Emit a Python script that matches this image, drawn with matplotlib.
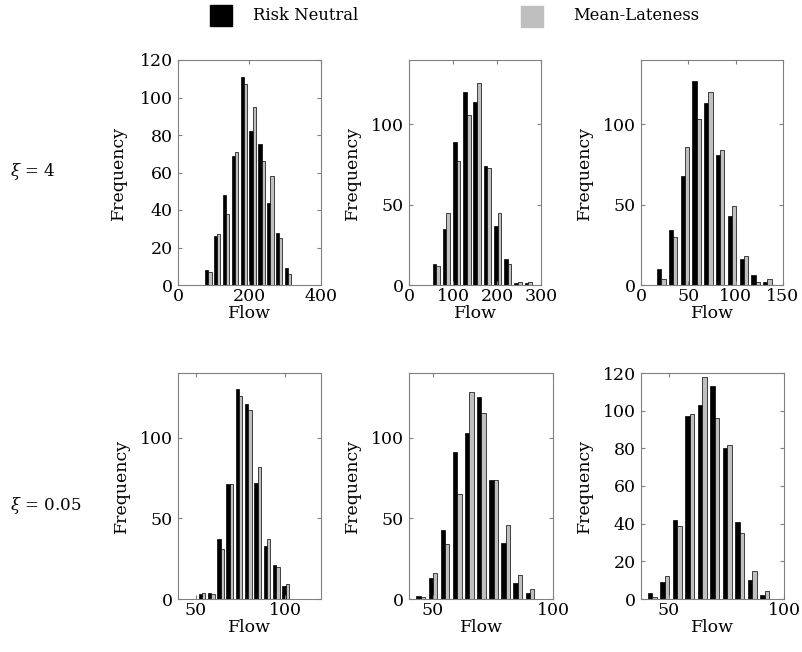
import numpy as np
import matplotlib
matplotlib.use('Agg')
import matplotlib.pyplot as plt

plt.rcParams['font.family'] = 'DejaVu Serif'
plt.rcParams['mathtext.fontset'] = 'dejavuserif'

# bin centres (Flow) per panel
centros = [
    np.linspace(85, 308, 10),
    np.linspace(62, 271, 10),
    np.linspace(21.5, 133.4, 10),
    np.linspace(53.4, 100.2, 10),
    np.linspace(44.9, 90.4, 10),
    np.linspace(42.8, 91.7, 10),
]

# Risk Neutral frequencies
neutro = [
    [8, 26, 48, 69, 111, 82, 75, 44, 28, 9],
    [13, 35, 89, 120, 114, 74, 37, 16, 1, 1],
    [10, 34, 68, 127, 113, 81, 43, 16, 6, 2],
    [3, 4, 37, 71, 130, 121, 72, 33, 21, 8],
    [2, 13, 43, 91, 103, 125, 74, 35, 10, 4],
    [3, 9, 42, 97, 103, 113, 80, 41, 10, 2],
]

# Mean-Lateness frequencies
atraso = [
    [7, 27, 38, 71, 107, 95, 66, 58, 25, 6],
    [12, 45, 77, 106, 126, 73, 45, 13, 2, 2],
    [4, 30, 86, 103, 120, 84, 49, 18, 2, 4],
    [4, 3, 31, 71, 126, 117, 82, 37, 20, 9],
    [1, 16, 34, 65, 128, 115, 74, 46, 15, 6],
    [1, 12, 39, 98, 118, 96, 82, 35, 15, 4],
]

xlims = [(0, 400), (0, 300), (0, 150), (40, 120), (40, 100), (38, 100)]
xticks = [[0, 200, 400], [0, 100, 200, 300], [0, 50, 100, 150],
          [50, 100], [50, 100], [50, 100]]
ylims = [(0, 120), (0, 140), (0, 140), (0, 140), (0, 140), (0, 120)]
yticks = [[0, 20, 40, 60, 80, 100, 120], [0, 50, 100], [0, 50, 100],
          [0, 50, 100], [0, 50, 100], [0, 20, 40, 60, 80, 100, 120]]

linhas = ['$\\xi$ = 4', '$\\xi$ = 0.05']

# posicoes dos eixos em pixels (esq, dir, topo, base)
caixas = [
    (178, 321, 60, 285), (409, 541, 60, 285), (641, 783, 60, 285),
    (178, 321, 373, 599), (409, 553, 373, 599), (641, 784, 373, 599),
]
pads = [9, 7, 7, 7, 7, 7]

W, H = 803, 652
fig = plt.figure(figsize=(W / 100, H / 100), dpi=100)

cinza = '#bfbfbf'
for i in range(6):
    l, r, t, b = caixas[i]
    ax = fig.add_axes([l / W, 1 - b / H, (r - l) / W, (b - t) / H])
    c = centros[i]
    d = c[1] - c[0]
    w = d * 0.36
    ax.bar(c - w / 2, neutro[i], width=w, color='black', edgecolor='black',
           linewidth=0.5)
    ax.bar(c + w / 2, atraso[i], width=w, color=cinza, edgecolor='black',
           linewidth=0.5)
    ax.set_xlim(xlims[i])
    ax.set_ylim(ylims[i])
    ax.set_xticks(xticks[i])
    ax.set_yticks(yticks[i])
    ax.tick_params(direction='in', length=3, color='#808080',
                   labelsize=12.5, top=True, right=True)
    ax.tick_params(axis='x', pad=2.5)
    ax.tick_params(axis='y', pad=3.8)
    for s in ax.spines.values():
        s.set_color('#808080')
        s.set_linewidth(0.8)
    ax.set_xlabel('Flow', fontsize=12.5, labelpad=0)
    ax.set_ylabel('Frequency', fontsize=12.5, labelpad=pads[i])

fig.text(10 / W, 1 - 172 / H, linhas[0], fontsize=12, va='center')
fig.text(10 / W, 1 - 505 / H, linhas[1], fontsize=12, va='center')

# legenda
fig.patches.append(plt.Rectangle((210 / W, 1 - 26 / H), 22 / W, 21 / H,
                                 transform=fig.transFigure, color='black'))
fig.text(253 / W, 1 - 15 / H, 'Risk Neutral', fontsize=11.8, va='center')
fig.patches.append(plt.Rectangle((521 / W, 1 - 27 / H), 22 / W, 21 / H,
                                 transform=fig.transFigure, color=cinza))
fig.text(573 / W, 1 - 15 / H, 'Mean-Lateness', fontsize=11.8, va='center')

plt.savefig('out.png', dpi=100)
